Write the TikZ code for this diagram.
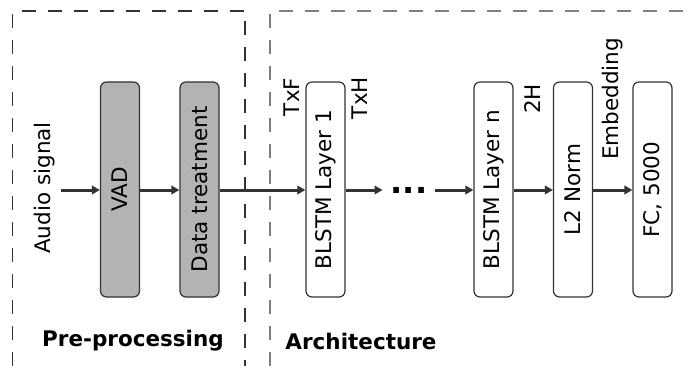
\documentclass[tikz,border=0pt]{standalone}
\usepackage{fontspec}
\setmainfont{DejaVu Sans}
\usetikzlibrary{arrows.meta}
\definecolor{boxgray}{HTML}{B3B3B3}
\definecolor{linegray}{HTML}{333333}
\begin{document}
\begin{tikzpicture}[x=1pt,y=-1pt,
		every node/.style={font=\fontsize{21.5}{26}\selectfont},
		blk/.style={draw=linegray,line width=1.2pt,rounded corners=6pt,rotate=90,minimum width=215pt,minimum height=39pt,inner sep=0pt},
		pre/.style={blk,fill=boxgray},
		lbl/.style={rotate=90,inner sep=0pt},
		conn/.style={line width=3pt,draw=linegray,-{Triangle[length=8pt,width=8.5pt]}},
		frame/.style={line width=1.2pt,dash pattern=on 14pt off 12pt}]
	\useasboundingbox (0,0) rectangle (690,366);
	% dashed frames
	\draw[frame,linegray] (12.5,366) -- (12.5,11) -- (245,11) -- (245,366);
	\draw[frame,gray] (270,366) -- (270,11) -- (690,11);
	% blocks
	\node[pre] (vad) at (120,189.5) {VAD};
	\node[pre] (data) at (199.5,189.5) {Data treatment};
	\node[blk] (blstm1) at (325.5,189.5) {BLSTM Layer 1};
	\node[blk] (blstmn) at (493.5,189.5) {BLSTM Layer n};
	\node[blk] (norm) at (573,189.5) {L2 Norm};
	\node[blk] (fc) at (652.5,189.5) {FC, 5000};
	\node[inner xsep=8pt,font=\fontsize{32}{32}\selectfont\bfseries] (dots) at (409,190) {...};
	\coordinate (in) at (61,190);
	% labels
	\node[lbl] (audio) at (45,188) {Audio signal};
	\node[lbl] (txf) at (292,97) {TxF};
	\node[lbl] (txh) at (360,98) {TxH};
	\node[lbl] (twoh) at (533,99) {2H};
	\node[lbl] (emb) at (613,99) {Embedding};
	\node[font=\fontsize{21.5}{26}\selectfont\bfseries] (prep) at (133,341) {Pre-processing};
	\node[font=\fontsize{21.5}{26}\selectfont\bfseries] (arch) at (361,341) {Architecture};
	% connectors
	\draw[conn] (in) -- (vad.north |- in);
	\foreach \a/\b in {vad/data,data/blstm1,norm/fc,blstmn/norm} {
			\draw[conn] (\a.south |- in) -- (\b.north |- in);
		}
	\draw[conn] (blstm1.south |- in) -- (dots.west |- in);
	\draw[conn] (dots.east |- in) -- (blstmn.north |- in);
\end{tikzpicture}
\end{document}
